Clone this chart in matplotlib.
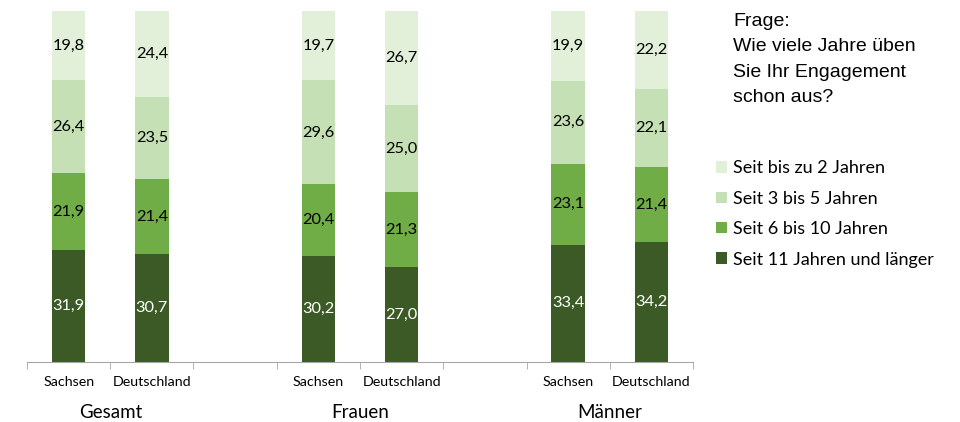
import numpy as np
import matplotlib.pyplot as plt

groups = ['Gesamt', 'Frauen', 'Männer']
regions = ['Sachsen', 'Deutschland']
series = ['Seit 11 Jahren und länger', 'Seit 6 bis 10 Jahren',
          'Seit 3 bis 5 Jahren', 'Seit bis zu 2 Jahren']
colors = ['#3b5a25', '#70ad47', '#c5e0b4', '#e2f0d9']
text_colors = ['white', 'black', 'black', 'black']

# bottom to top, order: Gesamt S, Gesamt D, Frauen S, Frauen D, Männer S, Männer D
v11 = [31.9, 30.7, 30.2, 27.0, 33.4, 34.2]
v6 = [21.9, 21.4, 20.4, 21.3, 23.1, 21.4]
v3 = [26.4, 23.5, 29.6, 25.0, 23.6, 22.1]
v2 = [19.8, 24.4, 19.7, 26.7, 19.9, 22.2]
values = [v11, v6, v3, v2]

x = np.array([0, 1, 3, 4, 6, 7])

fig = plt.figure(figsize=(9.6, 4.22), dpi=100)
ax = fig.add_axes([27 / 960, 60 / 422, 666 / 960, 351 / 422])

bottom = np.zeros(len(x))
for vals, col, tc, name in zip(values, colors, text_colors, series):
    vals = np.array(vals)
    ax.bar(x, vals, bottom=bottom, width=0.4, color=col, label=name)
    for xi, b, v in zip(x, bottom, vals):
        ax.text(xi, b + v / 2, f'{v:.1f}'.replace('.', ','), ha='center', va='center',
                fontsize=11.8, color=tc, family='Lato')
    bottom += vals

ax.set_xlim(-0.5, 7.5)
ax.set_ylim(0, 100)
ax.set_yticks([])
for s in ['top', 'right', 'left']:
    ax.spines[s].set_visible(False)
ax.spines['bottom'].set_color('#a6a6a6')

ax.set_xticks(x)
ax.set_xticklabels(regions * 3, fontsize=10.3, family='Lato')
ax.tick_params(axis='x', which='major', length=0, pad=10)
ax.set_xticks(np.arange(-0.5, 8, 1), minor=True)
ax.tick_params(axis='x', which='minor', length=5, color='#a6a6a6')

for i, g in enumerate(groups):
    ax.text(3 * i + 0.5, -0.145, g, transform=ax.get_xaxis_transform(),
            ha='center', va='center', fontsize=13.5, family='Lato')

fig.text(733 / 960, 1 - 13 / 422, 'Frage:\nWie viele Jahre üben\nSie Ihr Engagement\nschon aus?',
         ha='left', va='top', fontsize=14, family='Liberation Sans', linespacing=1.65)

handles, labels = ax.get_legend_handles_labels()
fig.legend(handles[::-1], labels[::-1], loc='upper left', bbox_to_anchor=(709 / 960, 1 - 153 / 422),
           frameon=False, prop={'family': 'Lato', 'size': 13}, handlelength=0.6,
           handleheight=0.6, handletextpad=0.35, labelspacing=0.8, borderaxespad=0)

fig.savefig('out.png', dpi=100)
